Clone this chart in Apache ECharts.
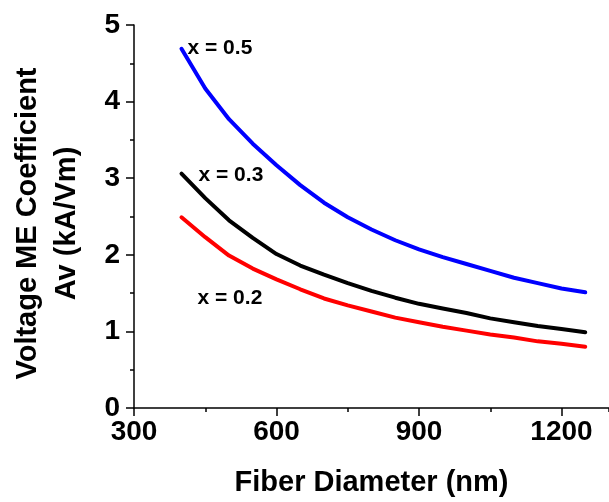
<!DOCTYPE html>
<html><head><meta charset="utf-8">
<script src="https://cdn.jsdelivr.net/npm/echarts@6/dist/echarts.min.js"></script>
<style>html,body{margin:0;padding:0;background:#fff}#c{width:609px;height:502px}</style>
</head><body><div id="c"></div>
<script>
// Fiber diameter (nm)
const diameters = [400,450,500,550,600,650,700,750,800,850,900,950,1000,1050,1100,1150,1200,1250];
// Voltage ME coefficient Av (kA/Vm)
const av_x05 = [4.69,4.17,3.77,3.45,3.17,2.91,2.68,2.49,2.33,2.19,2.07,1.97,1.88,1.79,1.70,1.63,1.56,1.51];
const av_x03 = [3.06,2.74,2.45,2.22,2.01,1.86,1.74,1.63,1.53,1.44,1.36,1.30,1.24,1.17,1.12,1.07,1.03,0.99];
const av_x02 = [2.49,2.23,1.99,1.82,1.68,1.55,1.43,1.34,1.26,1.18,1.12,1.06,1.01,0.96,0.92,0.87,0.84,0.80];
const curveLabels = ['x = 0.5','x = 0.3','x = 0.2'];
const xTickLabels = ['300','600','900','1200'];
const yTickLabels = ['0','1','2','3','4','5'];

const FONT = 'Liberation Sans, Arial, sans-serif';
const colors = ['#0000ff','#000000','#ff0000'];
const labelOffsets = [[1,-1],[12,2],[11,81]];

function build(vals, idx){
  return diameters.map((d,i)=>{
    if(i===0){
      return {value:[d, vals[i]], label:{show:true, formatter:curveLabels[idx], position:'right', distance:5,
        offset:labelOffsets[idx], fontSize:21, fontWeight:'bold', color:'#000', fontFamily:FONT}};
    }
    return [d, vals[i]];
  });
}
const series = [av_x05, av_x03, av_x02].map((v,k)=>({
  type:'line', data:build(v,k), showSymbol:true, symbol:'circle', symbolSize:0,
  lineStyle:{color:colors[k], width:4, cap:'round', join:'round'}, itemStyle:{color:colors[k]},
  silent:true, animation:false, z:3
}));

const chart = echarts.init(document.getElementById('c'));
const axisLineStyle = {color:'#000', width:1.5};
chart.setOption({
  animation:false,
  grid:{left:131, top:25, width:485, height:387},
  xAxis:[{
    type:'value', min:300, max:1300, interval:300,
    axisLine:{show:true, onZero:false, lineStyle:axisLineStyle},
    axisTick:{show:true, inside:false, length:8, lineStyle:axisLineStyle},
    axisLabel:{fontSize:28, fontWeight:'bold', color:'#000', fontFamily:FONT, margin:10, showMaxLabel:false,
      formatter:(v)=>{const s=String(v);return xTickLabels.indexOf(s)>=0?s:'';}},
    splitLine:{show:false},
    name:'Fiber Diameter (nm)', nameLocation:'middle', nameGap:60,
    nameTextStyle:{fontSize:29, fontWeight:'bold', color:'#000', fontFamily:FONT}
  },{
    type:'value', min:300, max:1300, interval:150, position:'bottom',
    axisLine:{show:false}, axisLabel:{show:false}, splitLine:{show:false},
    axisTick:{show:true, length:4, lineStyle:axisLineStyle}
  }],
  yAxis:{
    type:'value', min:0, max:5, interval:1,
    axisLine:{show:true, lineStyle:axisLineStyle},
    axisTick:{show:true, length:8, lineStyle:axisLineStyle},
    minorTick:{show:true, splitNumber:2, length:4, lineStyle:axisLineStyle},
    axisLabel:{fontSize:28, fontWeight:'bold', color:'#000', fontFamily:FONT, margin:14,
      formatter:(v)=>yTickLabels[Math.round(v)]},
    splitLine:{show:false},
    name:'Voltage ME Coefficient\nAv (kA/Vm)', nameLocation:'middle', nameGap:48, nameRotate:90,
    nameTextStyle:{fontSize:29, fontWeight:'bold', color:'#000', fontFamily:FONT, lineHeight:39, padding:[0,14,0,0]}
  },
  series:series
});
</script></body></html>
